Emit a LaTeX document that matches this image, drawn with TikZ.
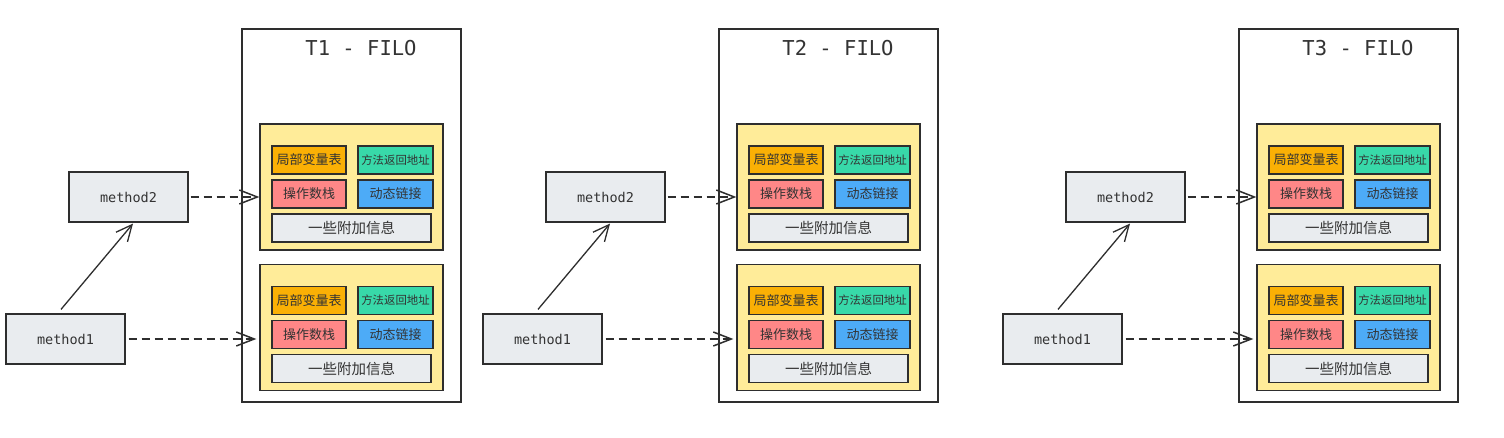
\documentclass[tikz,border=0pt]{standalone}
\usepackage{fontspec}
\newfontfamily\cjk{Noto Sans CJK SC}
\newfontfamily\mono{DejaVu Sans Mono}
\usetikzlibrary{arrows.meta,calc}
\definecolor{strokec}{HTML}{2E2E2E}
\definecolor{textc}{HTML}{333333}
\definecolor{yelc}{HTML}{FFEC99}
\definecolor{orac}{HTML}{FAB005}
\definecolor{grnc}{HTML}{38D9A9}
\definecolor{redc}{HTML}{FF8787}
\definecolor{bluc}{HTML}{4DABF7}
\definecolor{gryc}{HTML}{E9ECEF}
\begin{document}
\begin{tikzpicture}[x=1pt,y=-1pt,
  framebox/.style={draw=strokec, line width=1.2pt, inner sep=0pt, minimum width=219pt, minimum height=373pt},
  titletext/.style={text=textc, font=\mono\fontsize{20.5}{24}\selectfont, inner sep=0pt},
  stackbox/.style={draw=strokec, fill=yelc, line width=1.3pt, inner sep=0pt, minimum width=183pt, minimum height=126pt},
  subbox/.style={draw=strokec, line width=1.2pt, inner sep=0pt, minimum width=74pt, minimum height=28pt, text=textc},
  methbox/.style={draw=strokec, fill=gryc, line width=1.2pt, inner sep=0pt, minimum width=119pt, minimum height=50pt, text=textc, font=\mono\fontsize{13.5}{16}\selectfont},
  dasharrow/.style={draw=strokec, line width=1.5pt, dash pattern=on 8pt off 5pt, -{Straight Barb[length=18pt,width=14pt,line width=1.5pt]}},
  solidarrow/.style={draw=strokec, line width=1.3pt, -{Straight Barb[length=16pt,width=15pt,line width=1.3pt]}}
]
\useasboundingbox (0,0) rectangle (1504,438);
\fill[white] (0,0) rectangle (1504,438);
\foreach \i/\dx in {1/0,2/477,3/997}{
  \begin{scope}[xshift=\dx pt]
    \node[framebox] (f\i) at (351.5,215.5) {};
    \node[titletext] (t\i) at (361,48) {T\i\ - FILO};
    \foreach \j/\cy in {a/187,b/327.5}{
      \node[stackbox] (s\i\j) at (351.5,\cy) {};
      \node[subbox, fill=orac, font=\cjk\fontsize{13}{15}\selectfont] (lv\i\j) at ($(s\i\j)+(-42.5,-27)$) {局部变量表};
      \node[subbox, fill=grnc, minimum width=75pt, font=\cjk\fontsize{11.4}{14}\selectfont] (ra\i\j) at ($(s\i\j)+(44,-27)$) {方法返回地址};
      \node[subbox, fill=redc, font=\cjk\fontsize{13}{15}\selectfont] (os\i\j) at ($(s\i\j)+(-42.5,7)$) {操作数栈};
      \node[subbox, fill=bluc, minimum width=75pt, font=\cjk\fontsize{13}{15}\selectfont] (dl\i\j) at ($(s\i\j)+(44,7)$) {动态链接};
      \node[subbox, fill=gryc, minimum width=159pt, font=\cjk\fontsize{14.5}{17}\selectfont] (ai\i\j) at ($(s\i\j)+(0,41)$) {一些附加信息};
    }
    \node[methbox] (m2\i) at (128.5,197) {method2};
    \node[methbox] (m1\i) at (65.5,339) {method1};
    \draw[dasharrow, shorten <=2pt] (m2\i.east) -- (m2\i.east -| s\i a.west);
    \draw[dasharrow, shorten <=3pt, shorten >=3pt] (m1\i.east) -- (m1\i.east -| s\i b.west);
    \draw[solidarrow] ([xshift=-4.5pt,yshift=4pt]m1\i.north) -- ([xshift=4.5pt,yshift=-1pt]m2\i.south);
  \end{scope}
}
\end{tikzpicture}
\end{document}
